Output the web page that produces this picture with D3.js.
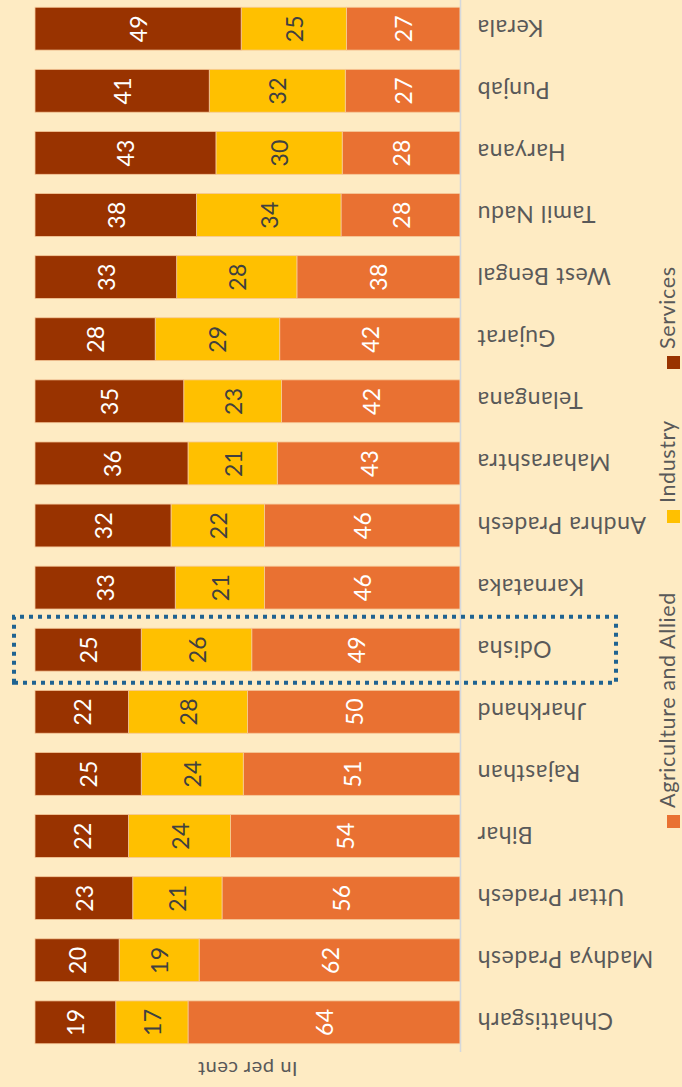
<!DOCTYPE html>
<html>
<head>
<meta charset="utf-8">
<script src="https://cdn.jsdelivr.net/npm/d3@7"></script>
<style>
  html, body { margin: 0; padding: 0; background: #FEEBC3; }
  svg { display: block; }
</style>
</head>
<body>
<script>
const states = ["Chhattisgarh","Madhya Pradesh","Uttar Pradesh","Bihar","Rajasthan","Jharkhand","Odisha","Karnataka","Andhra Pradesh","Maharashtra","Telangana","Gujarat","West Bengal","Tamil Nadu","Haryana","Punjab","Kerala"];
const agriculture = [64,62,56,54,51,50,49,46,46,43,42,42,38,28,28,27,27];
const industry    = [17,19,21,24,24,28,26,21,22,21,23,29,28,34,30,32,25];
const services    = [19,20,23,22,25,22,25,33,32,36,35,28,33,38,43,41,49];
const seriesNames = ["Agriculture and Allied","Industry","Services"];
const seriesKeys = ["agriculture","industry","services"];
const colors = ["#E97132","#FFC000","#993300"];
const labelColors = ["#ffffff","#404040","#ffffff"];
const highlight = "Odisha";

const PW = 682, PH = 1087;       // page size
const W = PH, H = PW;            // unrotated chart frame
const font = "Lato, 'Noto Sans', sans-serif";

const rows = states.map((s,i)=>({state:s, agriculture:agriculture[i], industry:industry[i], services:services[i]}));

const svg = d3.select("body").append("svg").attr("width",PW).attr("height",PH);
svg.append("rect").attr("width",PW).attr("height",PH).attr("fill","#FEEBC3");
const g = svg.append("g").attr("transform",`translate(0,${PH}) rotate(-90)`);

const x = d3.scaleBand().domain(states).range([24,1099]).padding(0.31);
const y = d3.scaleLinear().domain([0,1]).range([460,35]);

const stack = d3.stack().keys(seriesKeys).offset(d3.stackOffsetExpand);
const stacked = stack(rows);

const layers = g.selectAll("g.layer").data(stacked).join("g").attr("class","layer")
  .attr("fill",(d,i)=>colors[i]);
layers.selectAll("rect").data(d=>d).join("rect")
  .attr("x",d=>x(d.data.state))
  .attr("width",x.bandwidth())
  .attr("y",d=>y(d[1]))
  .attr("height",d=>y(d[0])-y(d[1]))
  .attr("stroke","#F6C99A").attr("stroke-width",0.8);

// value labels
stacked.forEach((layer,i)=>{
  g.append("g").selectAll("text").data(layer).join("text")
    .attr("x",d=>x(d.data.state)+x.bandwidth()/2)
    .attr("y",d=>(y(d[0])+y(d[1]))/2)
    .attr("text-anchor","middle").attr("dominant-baseline","central")
    .attr("font-family",font).attr("font-size",23)
    .attr("letter-spacing",0.3)
    .attr("fill",labelColors[i])
    .text(d=>d.data[layer.key]);
});

// axis baseline
g.append("line").attr("x1",35).attr("x2",W).attr("y1",y(0)+0.5).attr("y2",y(0)+0.5)
  .attr("stroke","#D4D8DC").attr("stroke-width",1.5);

// category labels
const xAxis = d3.axisBottom(x).tickSize(0).tickPadding(0);
const ax = g.append("g").attr("transform",`translate(0,${y(0)})`).call(xAxis);
ax.select(".domain").remove();
ax.selectAll("text")
  .attr("font-family",font).attr("font-size",23).attr("fill","#595959")
  .attr("text-anchor","end").attr("dominant-baseline","central")
  .attr("letter-spacing",0.6)
  .attr("transform","translate(0,17) rotate(-90)")
  .attr("x",0).attr("y",0).attr("dy",null);

// y title
g.append("text").attr("transform",`translate(25,${(y(0)+y(1))/2}) rotate(-90)`)
  .attr("text-anchor","middle").attr("font-family",font).attr("font-size",20)
  .attr("letter-spacing",0.6)
  .attr("fill","#595959").text("In per cent");

// highlight box
const hx = x(highlight)+x.bandwidth()/2;
g.append("rect").attr("x",hx-33).attr("y",14).attr("width",66).attr("height",602)
  .attr("fill","none").attr("stroke","#1F6391").attr("stroke-width",4)
  .attr("stroke-dasharray","4 5");

// legend
const legendStarts = [259, 564, 718];
const leg = g.append("g");
const items = leg.selectAll("g").data(seriesNames).join("g")
  .attr("transform",(d,i)=>`translate(${legendStarts[i]},0)`);
items.append("rect").attr("width",13).attr("height",13).attr("y",667).attr("fill",(d,i)=>colors[i]);
items.append("text").attr("x",20).attr("y",675).attr("font-family",font).attr("font-size",21.5)
  .attr("letter-spacing",0.6)
  .attr("fill","#595959").text(d=>d);
</script>
</body>
</html>
